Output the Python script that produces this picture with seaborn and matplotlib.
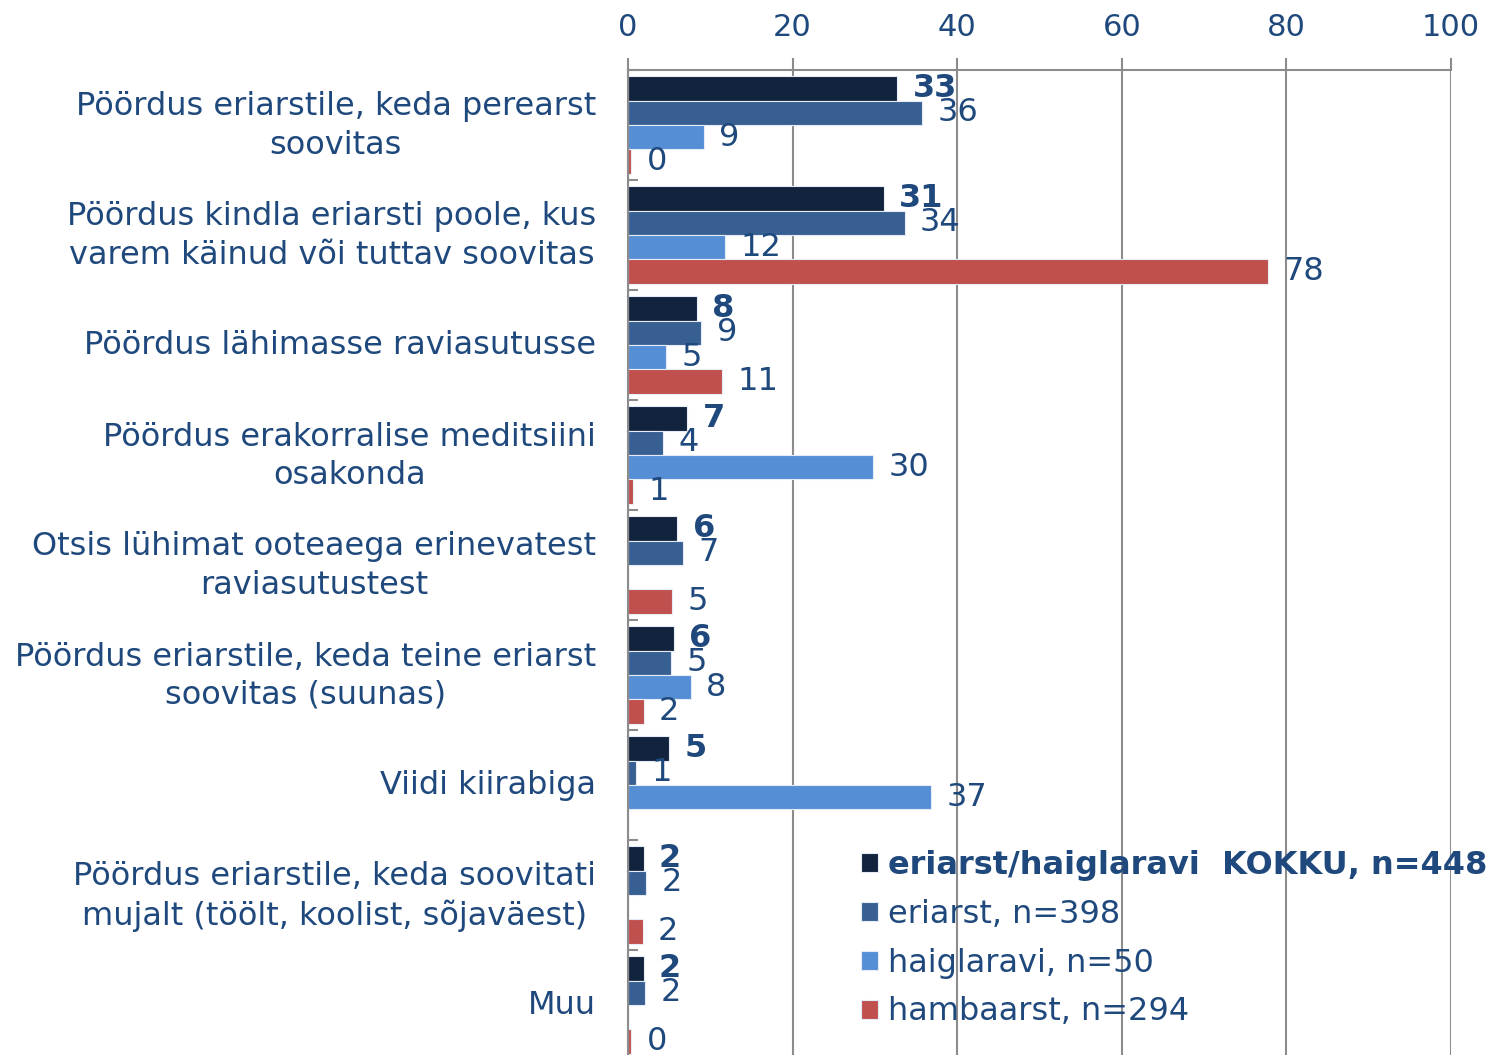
import numpy as np
import pandas as pd
import matplotlib
matplotlib.use("Agg")
import matplotlib.pyplot as plt
import matplotlib.transforms as mtransforms
import seaborn as sns
from matplotlib.ticker import FixedLocator

categories = [
    "Pöördus eriarstile, keda perearst\nsoovitas",
    "Pöördus kindla eriarsti poole, kus\nvarem käinud või tuttav soovitas",
    "Pöördus lähimasse raviasutusse",
    "Pöördus erakorralise meditsiini\nosakonda",
    "Otsis lühimat ooteaega erinevatest\nraviasutustest",
    "Pöördus eriarstile, keda teine eriarst\nsoovitas (suunas)",
    "Viidi kiirabiga",
    "Pöördus eriarstile, keda soovitati\nmujalt (töölt, koolist, sõjaväest)",
    "Muu",
]
series_names = [
    "eriarst/haiglaravi  KOKKU, n=448",
    "eriarst, n=398",
    "haiglaravi, n=50",
    "hambaarst, n=294",
]
kokku = [32.7, 31.1, 8.4, 7.2, 6.0, 5.6, 5.0, 1.9, 1.9]
eriarst = [35.7, 33.6, 8.9, 4.3, 6.7, 5.2, 1.0, 2.2, 2.1]
haiglaravi = [9.2, 11.8, 4.6, 29.8, np.nan, 7.6, 36.8, np.nan, np.nan]
hambaarst = [0.4, 77.8, 11.4, 0.6, 5.4, 1.9, np.nan, 1.8, 0.4]
x_ticks = [0, 20, 40, 60, 80, 100]

colors = ["#12233D", "#375F92", "#558ED5", "#C0504D"]
text_color = "#1F497D"
grid_color = "#8C8C8C"

rows = []
for name, vals in zip(series_names, [kokku, eriarst, haiglaravi, hambaarst]):
    for cat, v in zip(categories, vals):
        rows.append({"cat": cat, "series": name, "value": v})
df = pd.DataFrame(rows)

sns.set_style("white")
plt.rcParams["font.family"] = ["DejaVu Sans"]

fig = plt.figure(figsize=(15.03, 10.55), dpi=100)
ax = fig.add_axes([628 / 1503, -5 / 1055, 823 / 1503, 990 / 1055])

sns.barplot(data=df, y="cat", x="value", hue="series", order=categories,
            hue_order=series_names, palette=colors, saturation=1, orient="h",
            width=0.89, errorbar=None, edgecolor="#E6ECF5", linewidth=0.8,
            ax=ax, legend=True)

ax.set_xlim(0, 100)
ax.set_ylim(len(categories) - 0.5, -0.5)
ax.xaxis.set_major_locator(FixedLocator(x_ticks))
ax.xaxis.tick_top()
ax.xaxis.set_label_position("top")
ax.set_xlabel("")
ax.set_ylabel("")
ax.grid(axis="x", color=grid_color, linewidth=1.5)
ax.set_axisbelow(True)
for s in ["right", "bottom"]:
    ax.spines[s].set_visible(False)
for s in ["top", "left"]:
    ax.spines[s].set_color(grid_color)
    ax.spines[s].set_linewidth(1.5)

ax.tick_params(axis="x", which="major", top=True, bottom=False, length=9,
               width=1.5, color=grid_color, labelsize=22, labelcolor=text_color,
               pad=11)
ax.tick_params(axis="y", which="major", left=False, length=0, labelsize=23,
               labelcolor=text_color, pad=23)
ax.yaxis.set_minor_locator(FixedLocator(np.arange(-0.5, len(categories), 1.0)))
ax.tick_params(axis="y", which="minor", left=True, direction="in", length=7,
               width=1.5, color=grid_color)
for lab in ax.get_yticklabels():
    lab.set_multialignment("center")
    lab.set_linespacing(1.3)
    dy = 6 if "\n" in lab.get_text() else 3
    lab.set_transform(lab.get_transform() +
                      mtransforms.ScaledTranslation(0, dy / 100, fig.dpi_scale_trans))

for i, cont in enumerate(ax.containers):
    labels = ["" if np.isnan(w) else f"{w:.0f}" for w in cont.datavalues]
    ax.bar_label(cont, labels=labels, padding=11, fontsize=23, color=text_color,
                 fontweight="bold" if i == 0 else "normal")

leg = ax.legend(loc="upper left", bbox_to_anchor=(848 / 1503, 1 - 837 / 1055),
                bbox_transform=fig.transFigure, frameon=False, fontsize=23,
                handlelength=0.55, handleheight=0.55, handletextpad=0.3,
                labelspacing=0.56, borderaxespad=0)
for j, t in enumerate(leg.get_texts()):
    t.set_color(text_color)
    if j == 0:
        t.set_fontweight("bold")

fig.savefig("out.png", dpi=100)
